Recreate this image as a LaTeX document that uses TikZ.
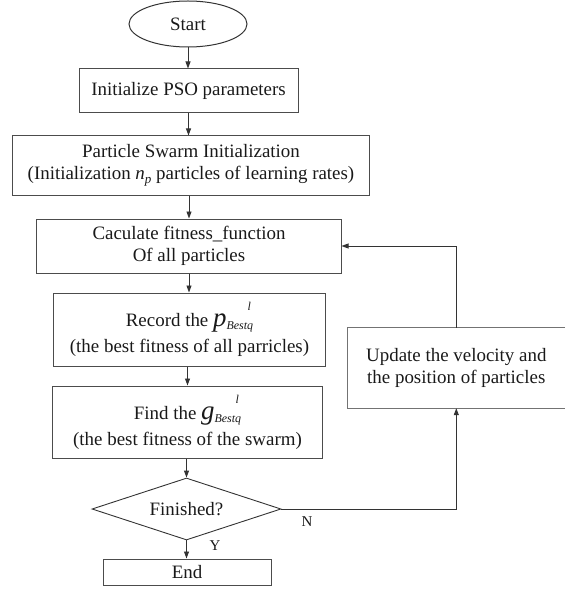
\documentclass[tikz,border=0pt]{standalone}
\usepackage{fontspec}
\setmainfont{Liberation Serif}
\usetikzlibrary{shapes.geometric,arrows.meta}
\begin{document}
\begin{tikzpicture}[x=1bp,y=-1bp,
  every node/.style={inner sep=0pt,font=\fontsize{19}{22}\selectfont,text=black!90},
  stepbox/.style={draw=black!70,line width=1bp,rectangle,align=center},
  conn/.style={draw=black!80,line width=0.9bp,-{Triangle[length=7bp,width=5bp]}},
  lbl/.style={font=\fontsize{15}{15}\selectfont}]
\useasboundingbox (0,0) rectangle (575,590);
\node[draw=black!80,line width=1bp,ellipse,minimum width=118bp,minimum height=46bp] (start) at (188,24) {Start};
\node[stepbox,minimum width=219bp,minimum height=44bp] (b1) at (188.5,91) {Initialize PSO parameters};
\node[stepbox,minimum width=356bp,minimum height=59bp] (b2) at (191,165.5) {Particle Swarm Initialization\\(Initialization \textit{n}\raisebox{-4bp}{\fontsize{13}{13}\selectfont\textit{p}} particles of learning rates)};
\node[stepbox,minimum width=304bp,minimum height=54bp] (b3) at (189,246) {Caculate fitness\_function\\Of all particles};
\node[stepbox,minimum width=271bp,minimum height=73bp] (b4) at (189.5,329.5) {Record the {\fontsize{27}{27}\selectfont\textit{p}}\rlap{\hspace{21bp}\raisebox{16bp}{\fontsize{12}{12}\selectfont\textit{l}}}\raisebox{-3bp}{\fontsize{12}{12}\selectfont\textit{Bestq}}\\[4bp](the best fitness of all parricles)};
\node[stepbox,minimum width=269bp,minimum height=72bp] (b5) at (187.5,422) {Find the {\fontsize{27}{27}\selectfont\textit{g}}\rlap{\hspace{21bp}\raisebox{16bp}{\fontsize{12}{12}\selectfont\textit{l}}}\raisebox{-3bp}{\fontsize{12}{12}\selectfont\textit{Bestq}}\\[4bp](the best fitness of the swarm)};
\node[draw=black!80,line width=0.9bp,diamond,shape aspect=3,minimum width=189bp,minimum height=62bp] (dec) at (186.5,509) {Finished?};
\node[stepbox,minimum width=168bp,minimum height=26bp] (end) at (187,572) {End};
\node[rectangle,minimum width=217bp,minimum height=80bp,align=center] (upd) at (456.3,368) {Update the velocity and\\the position of particles};
\draw[draw=black!55,line width=1.2bp] (upd.north east) -- (upd.north west) -- (upd.south west) -- (upd.south east);
\draw[conn] (start.south) -- (start.south |- b1.north);
\draw[conn] (b1.south) -- (b1.south |- b2.north);
\draw[conn] (b2.south -| b3.north) -- (b3.north);
\draw[conn] (b3.south) -- (b3.south |- b4.north);
\draw[conn] (b4.south -| b5.north) -- (b5.north);
\draw[conn] (b5.south -| dec.north) -- (dec.north);
\draw[conn] (dec.south) -- (dec.south |- end.north);
\draw[conn] (dec.east) -| (upd.south);
\draw[conn] (upd.north) |- (b3.east);
\node[lbl] (nlab) at (307,522) {N};
\node[lbl] (ylab) at (215,546) {Y};
\end{tikzpicture}
\end{document}
